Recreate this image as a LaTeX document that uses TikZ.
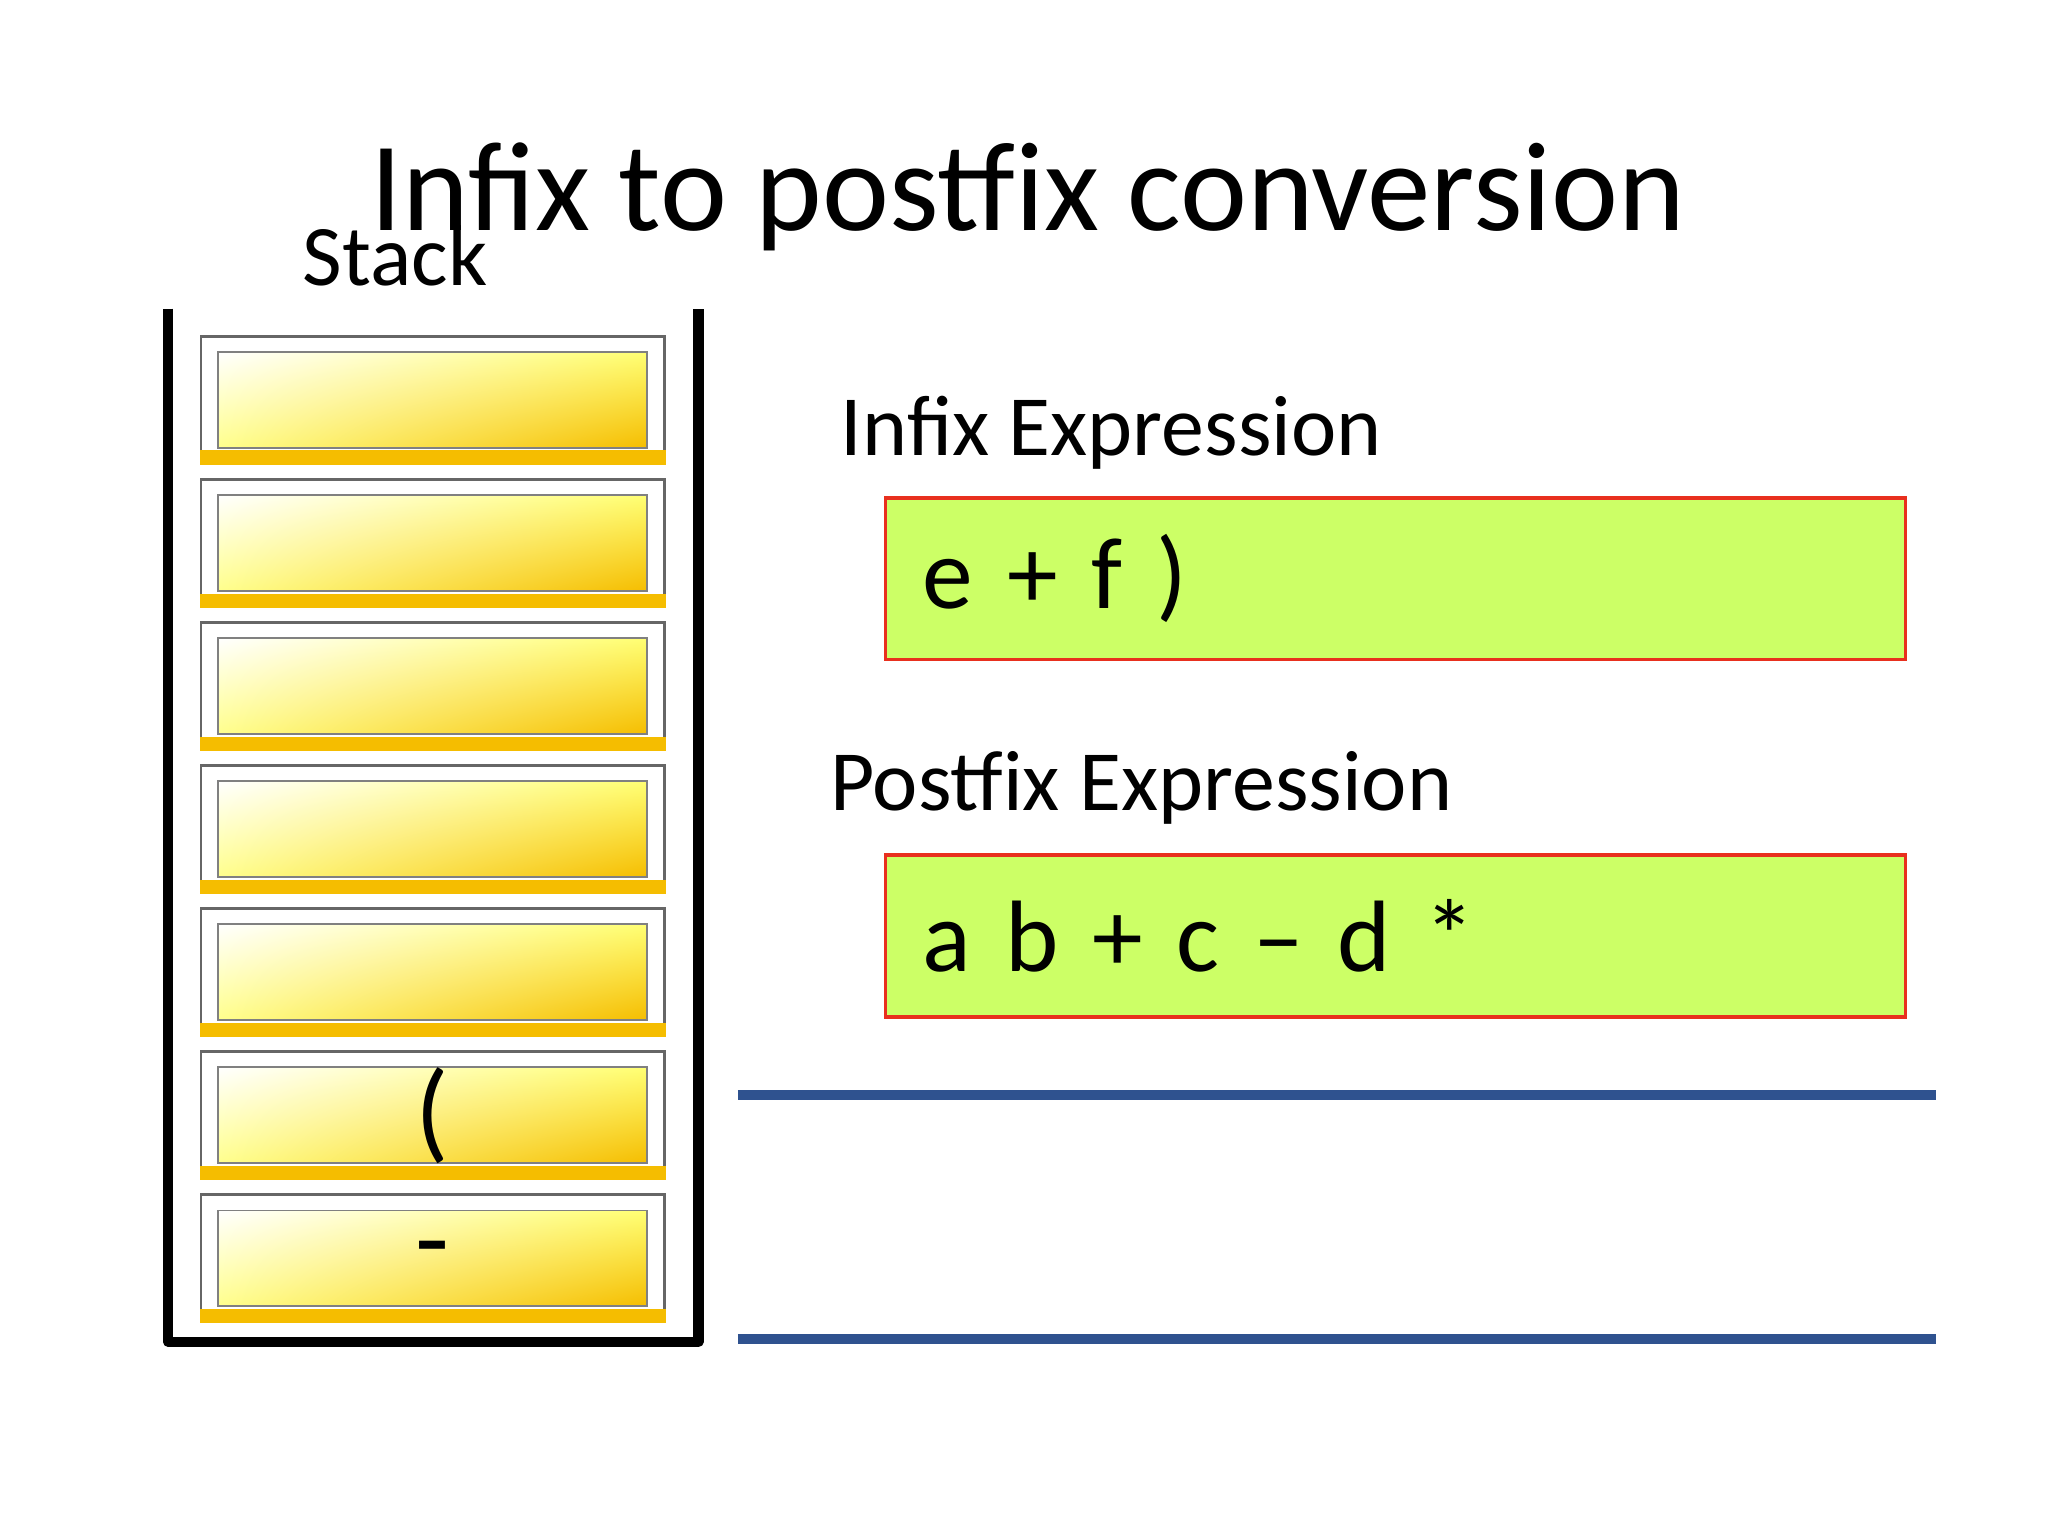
\documentclass[tikz,border=0pt]{standalone}
\usepackage{fontspec}
\setmainfont{Carlito}
\usetikzlibrary{shadings}
\definecolor{slotgold}{HTML}{F5BD00}
\definecolor{exprgreen}{HTML}{CCFF66}
\definecolor{exprred}{HTML}{E8301E}
\definecolor{lineblue}{HTML}{2F528F}
\tikzset{
  slot/.style={draw=black!60, line width=0.6pt, fill=white, minimum width=3.53cm, minimum height=0.97cm, inner sep=0pt},
  expr/.style={draw=exprred, fill=exprgreen, line width=0.8pt, minimum width=7.77cm, minimum height=1.23cm, anchor=north west, text width=7.2cm, align=left, font=\fontsize{22}{26}\selectfont},
  label/.style={anchor=west, font=\fontsize{18.6}{22}\selectfont}
}
\begin{document}
\begin{tikzpicture}
  \useasboundingbox (0,0) rectangle (15.6,-11.7);
  % title
  \node (title) at (7.83,-1.5) {\fontsize{27.5}{32}\selectfont Infix to postfix conversion};
  \node (stk) at (3.01,-1.95) {\fontsize{18.7}{22}\selectfont Stack};
  % stack slots
  \foreach \i in {0,...,6} {
    \node[slot, anchor=north west] (s\i) at (1.52,{-2.55-1.09*\i}) {};
    \fill[slotgold] (s\i.south west) rectangle ([yshift=0.11cm]s\i.south east);
    \shade[upper left=white, upper right=yellow!55, lower left=yellow!45, lower right=slotgold, draw=black!50]
      ([shift={(0.14,-0.13)}]s\i.north west) rectangle ([shift={(-0.14,0.13)}]s\i.south east);
  }
  \node[font=\fontsize{24}{28}\selectfont] (p1) at (s5) {(};
  \node[font=\fontsize{24}{28}\selectfont] (p2) at (s6) {-};
  % stack frame
  \draw[line width=2.2pt, line join=round]
    (1.28,-2.35) -- (1.28,-10.22) -- (5.32,-10.22) -- (5.32,-2.35);
  % expressions
  \node[label] (inlab) at (6.28,-3.3) {Infix Expression};
  \node[expr] (inbox) at (6.73,-3.78) {e + f )};
  \node[label] (postlab) at (6.2,-6.0) {Postfix Expression};
  \node[expr] (postbox) at (6.73,-6.5) {a b + c – d *};
  % output lines
  \draw[lineblue, line width=2pt] (5.62,-8.34) -- (14.75,-8.34);
  \draw[lineblue, line width=2pt] (5.62,-10.2) -- (14.75,-10.2);
\end{tikzpicture}
\end{document}
